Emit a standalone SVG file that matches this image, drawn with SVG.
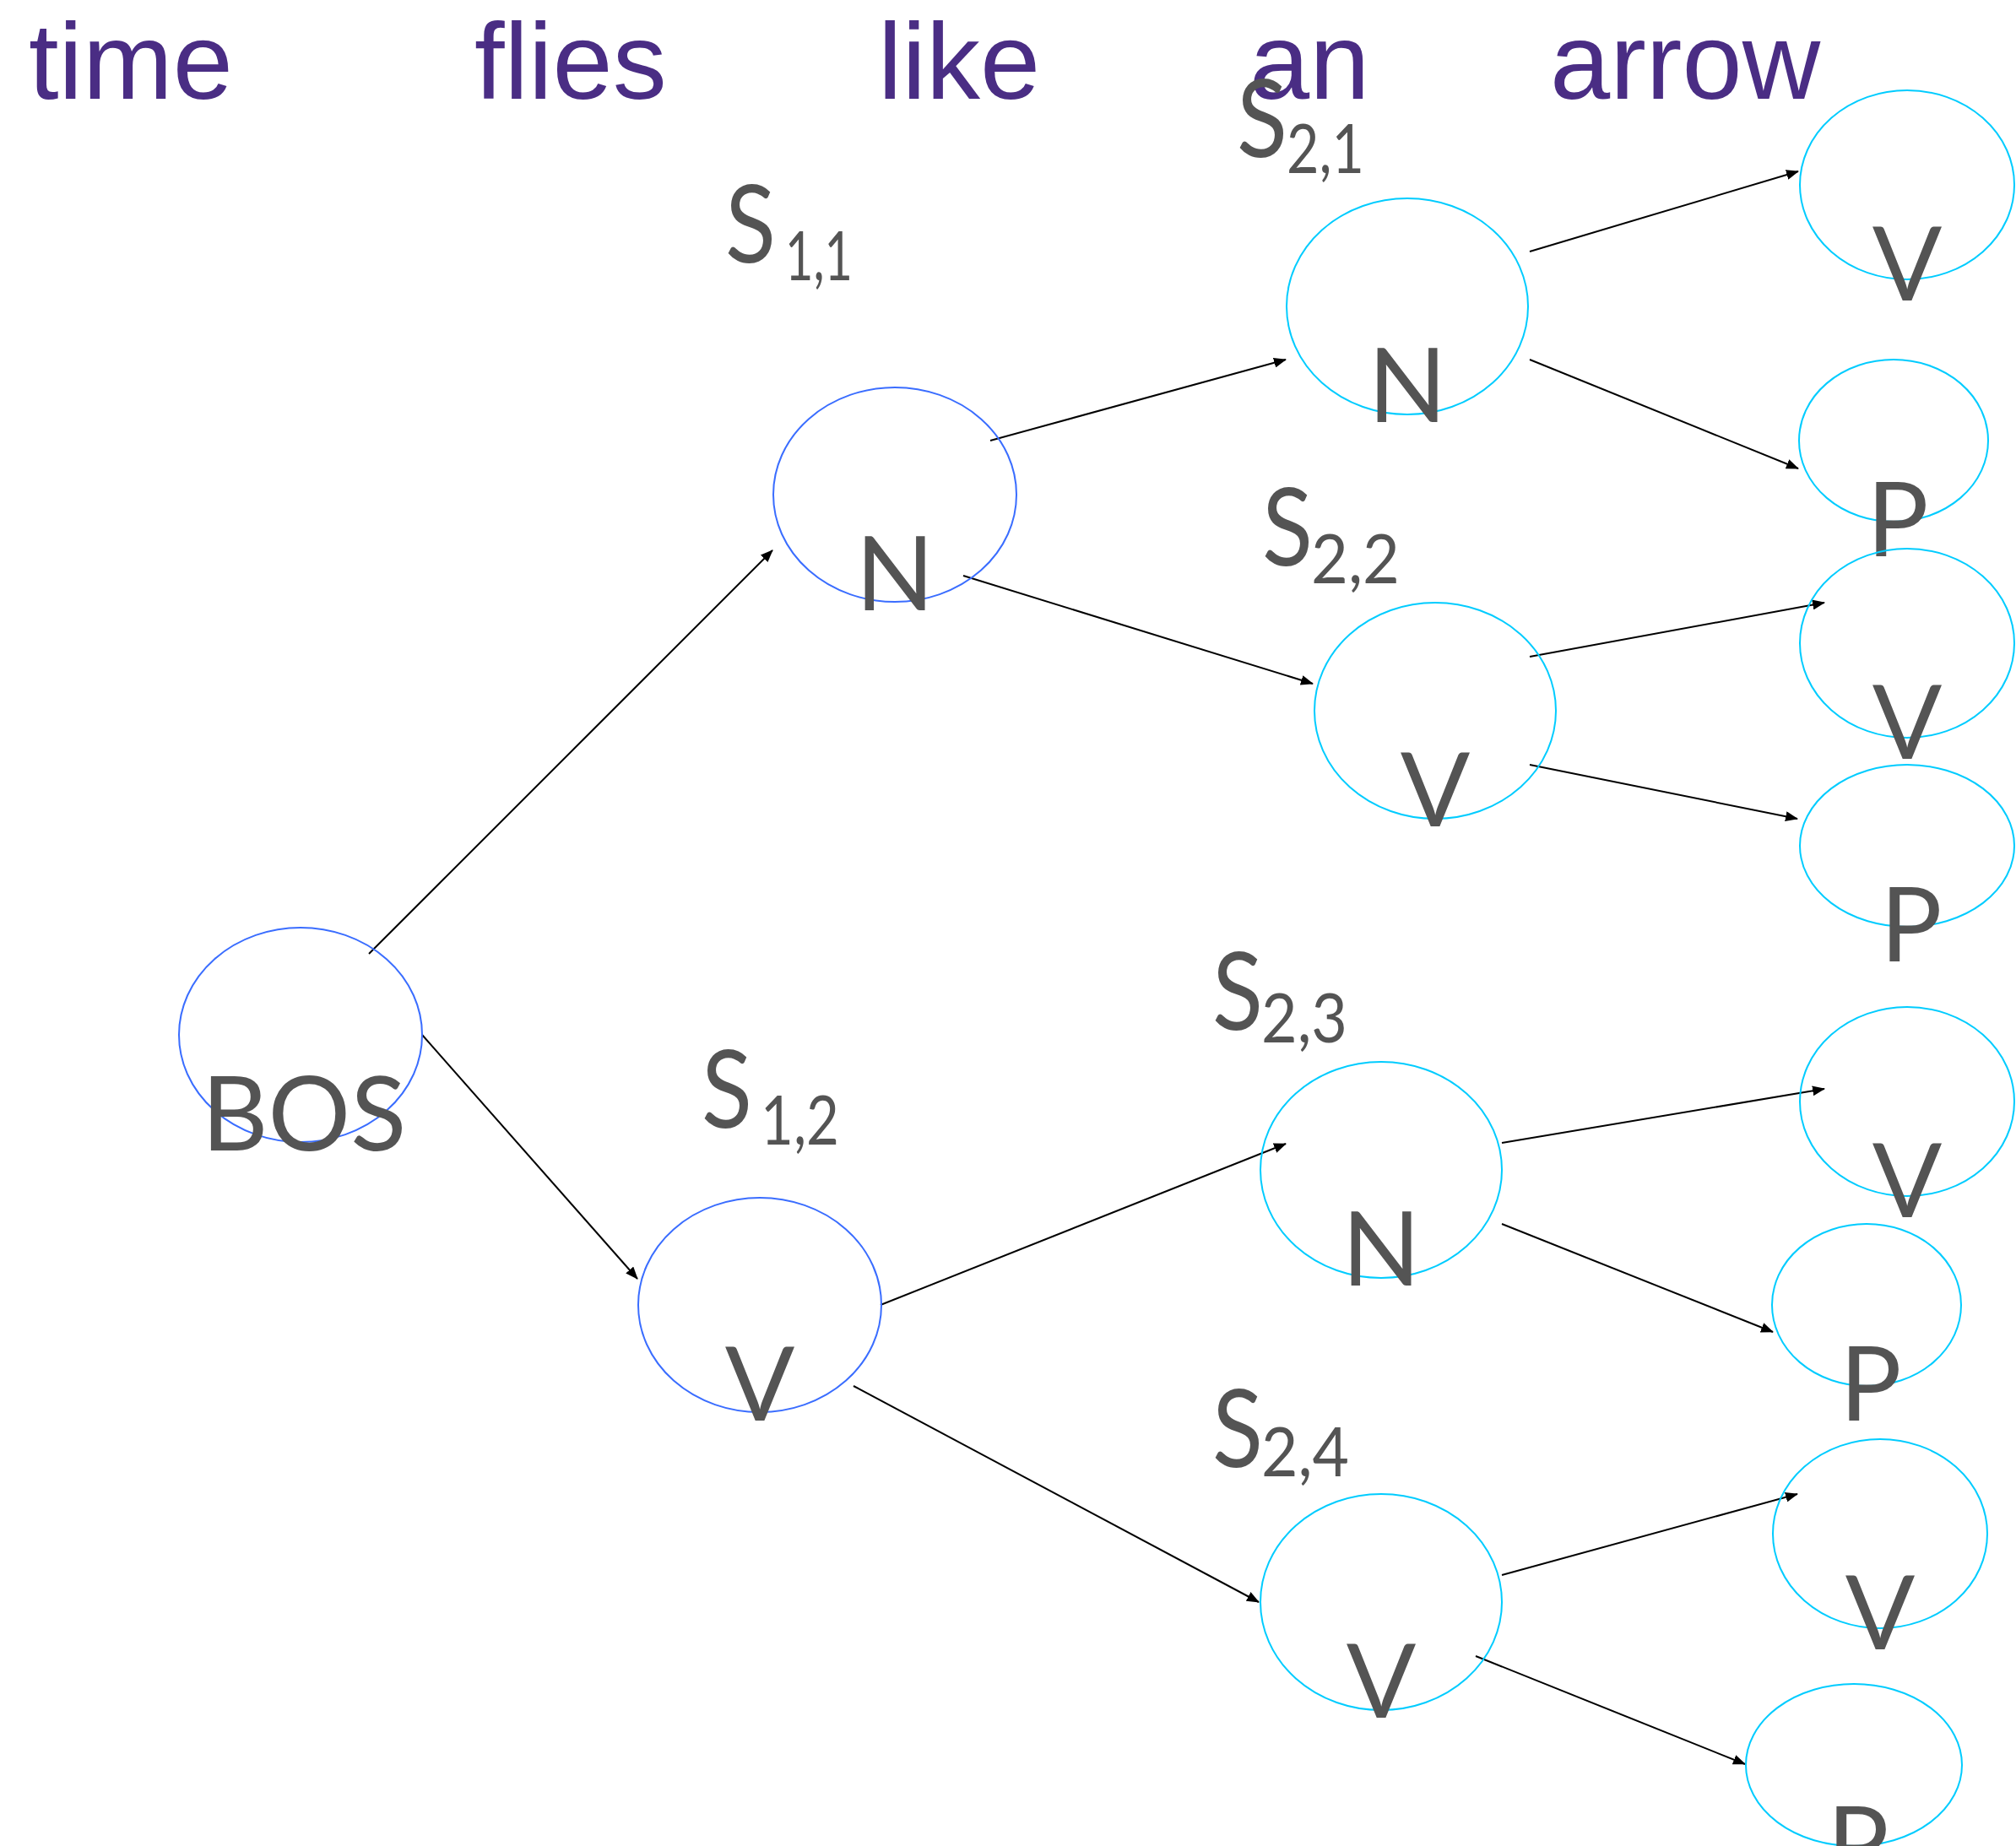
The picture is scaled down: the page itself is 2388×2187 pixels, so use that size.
<svg xmlns="http://www.w3.org/2000/svg" width="2388" height="2187" viewBox="0 0 2388 2187">
<style>
.w{font-family:"Liberation Sans",Arial,sans-serif;font-size:128px;fill:#4a2d84}
.lbl{font-family:Lato,"Open Sans",sans-serif;font-size:122px;fill:#545454;text-anchor:middle}
.s{font-family:Lato,"Open Sans",sans-serif;font-size:128px;fill:#545454}
.sub{font-family:Lato,"Open Sans",sans-serif;font-size:82px;fill:#545454}
.n1{fill:none;stroke:#3a6dff;stroke-width:2}
.n2{fill:none;stroke:#00ccff;stroke-width:2}
.e{stroke:#000;stroke-width:2;fill:none;marker-end:url(#ah)}
</style>
<defs>
<marker id="ah" markerUnits="userSpaceOnUse" markerWidth="16" markerHeight="12" refX="14" refY="6" orient="auto">
<path d="M0,0 L15,6 L0,12 z" fill="#000"/>
</marker>
</defs>
<rect width="2388" height="2187" fill="#fff"/>
<g id="words">
<text class="w" x="34" y="117">time</text>
<text class="w" x="562" y="117">flies</text>
<text class="w" x="1040" y="117">like</text>
<text class="w" x="1480" y="117">an</text>
<text class="w" x="1836" y="117">arrow</text>
</g>
<g id="state-labels">
<g id="l11"><text class="s" x="859" y="311" textLength="60" lengthAdjust="spacingAndGlyphs">S</text><text class="sub" x="930" y="332" textLength="80" lengthAdjust="spacingAndGlyphs">1,1</text></g>
<g id="l12"><text class="s" x="831" y="1336" textLength="60" lengthAdjust="spacingAndGlyphs">S</text><text class="sub" x="901" y="1356" textLength="93" lengthAdjust="spacingAndGlyphs">1,2</text></g>
<g id="l21"><text class="s" x="1465" y="186" textLength="60" lengthAdjust="spacingAndGlyphs">S</text><text class="sub" x="1524" y="205" textLength="92" lengthAdjust="spacingAndGlyphs">2,1</text></g>
<g id="l22"><text class="s" x="1495" y="670" textLength="60" lengthAdjust="spacingAndGlyphs">S</text><text class="sub" x="1553" y="691" textLength="105" lengthAdjust="spacingAndGlyphs">2,2</text></g>
<g id="l23"><text class="s" x="1436" y="1220" textLength="60" lengthAdjust="spacingAndGlyphs">S</text><text class="sub" x="1494" y="1235" textLength="102" lengthAdjust="spacingAndGlyphs">2,3</text></g>
<g id="l24"><text class="s" x="1436" y="1738" textLength="60" lengthAdjust="spacingAndGlyphs">S</text><text class="sub" x="1494" y="1749" textLength="104" lengthAdjust="spacingAndGlyphs">2,4</text></g>
</g>
<g id="edges">
<line class="e" x1="437" y1="1130" x2="915" y2="652"/>
<line class="e" x1="500" y1="1226" x2="755" y2="1515"/>
<line class="e" x1="1173" y1="522" x2="1523" y2="426"/>
<line class="e" x1="1141" y1="682" x2="1555" y2="810"/>
<line class="e" x1="1812" y1="298" x2="2130" y2="203"/>
<line class="e" x1="1812" y1="426" x2="2130" y2="555"/>
<line class="e" x1="1812" y1="778" x2="2161" y2="714"/>
<line class="e" x1="1812" y1="906" x2="2129" y2="970"/>
<line class="e" x1="1043" y1="1546" x2="1523" y2="1355"/>
<line class="e" x1="1011" y1="1642" x2="1491" y2="1898"/>
<line class="e" x1="1779" y1="1354" x2="2161" y2="1290"/>
<line class="e" x1="1779" y1="1450" x2="2100" y2="1578"/>
<line class="e" x1="1779" y1="1866" x2="2129" y2="1770"/>
<line class="e" x1="1748" y1="1962" x2="2067" y2="2090"/>
</g>
<g id="bos"><ellipse class="n1" cx="356" cy="1226" rx="144" ry="127"/><text class="lbl" x="360" y="1363">BOS</text></g>
<g id="s11"><ellipse class="n1" cx="1060" cy="586" rx="144" ry="127"/><text class="lbl" x="1060" y="723">N</text></g>
<g id="s12"><ellipse class="n1" cx="900" cy="1546" rx="144" ry="127"/><text class="lbl" x="900" y="1683">V</text></g>
<g id="s21"><ellipse class="n2" cx="1667" cy="363" rx="143" ry="128"/><text class="lbl" x="1667" y="500">N</text></g>
<g id="s22"><ellipse class="n2" cx="1700" cy="842" rx="143" ry="128"/><text class="lbl" x="1700" y="979">V</text></g>
<g id="s23"><ellipse class="n2" cx="1636" cy="1386" rx="143" ry="128"/><text class="lbl" x="1636" y="1523">N</text></g>
<g id="s24"><ellipse class="n2" cx="1636" cy="1898" rx="143" ry="128"/><text class="lbl" x="1636" y="2035">V</text></g>
<g id="s31"><ellipse class="n2" cx="2259" cy="219" rx="127" ry="112"/><text class="lbl" x="2259" y="356">V</text></g>
<g id="s32"><ellipse class="n2" cx="2243" cy="522" rx="112" ry="96"/><text class="lbl" x="2248" y="659">P</text></g>
<g id="s33"><ellipse class="n2" cx="2259" cy="762" rx="127" ry="112"/><text class="lbl" x="2259" y="899">V</text></g>
<g id="s34"><ellipse class="n2" cx="2259" cy="1002" rx="127" ry="96"/><text class="lbl" x="2264" y="1139">P</text></g>
<g id="s35"><ellipse class="n2" cx="2259" cy="1305" rx="127" ry="112"/><text class="lbl" x="2259" y="1442">V</text></g>
<g id="s36"><ellipse class="n2" cx="2211" cy="1546" rx="112" ry="96"/><text class="lbl" x="2216" y="1683">P</text></g>
<g id="s37"><ellipse class="n2" cx="2227" cy="1817" rx="127" ry="112"/><text class="lbl" x="2227" y="1954">V</text></g>
<g id="s38"><ellipse class="n2" cx="2196" cy="2091" rx="128" ry="96"/><text class="lbl" x="2201" y="2228">P</text></g>
</svg>
